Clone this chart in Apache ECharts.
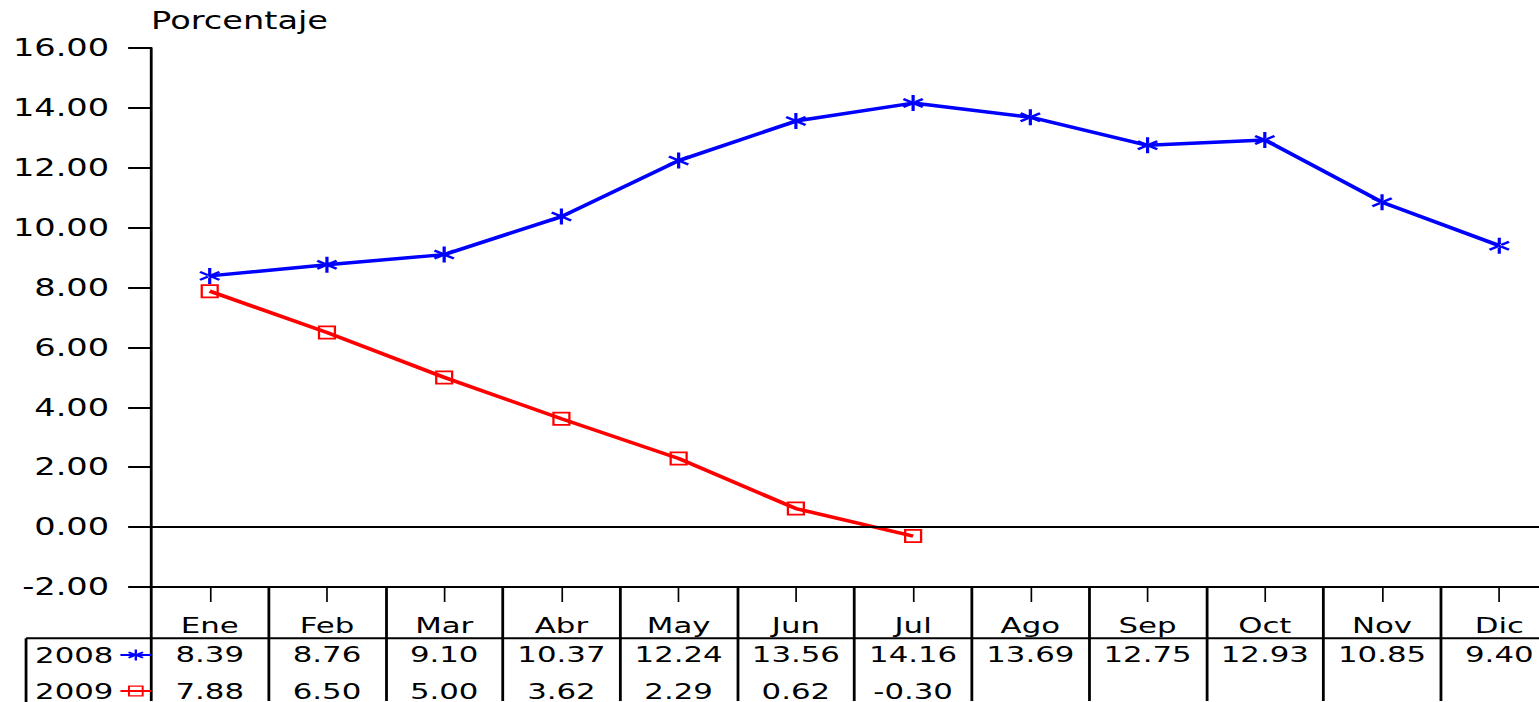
<!DOCTYPE html>
<html>
<head>
<meta charset="utf-8">
<script src="https://cdn.jsdelivr.net/npm/echarts@6/dist/echarts.min.js"></script>
<style>
  html, body { margin: 0; padding: 0; background: #fff; overflow: hidden; }
  #wrap { width: 1539px; height: 702px; overflow: hidden; }
  /* the chart is laid out narrower and widened horizontally; the last column runs past the right edge */
  #chart { width: 1120px; height: 702px; transform: scaleX(1.40036); transform-origin: 0 0; }
</style>
</head>
<body>
<div id="wrap"><div id="chart"></div></div>
<script>
// Monthly percentages
const months = ['Ene', 'Feb', 'Mar', 'Abr', 'May', 'Jun', 'Jul', 'Ago', 'Sep', 'Oct', 'Nov', 'Dic'];
const values2008 = [8.39, 8.76, 9.10, 10.37, 12.24, 13.56, 14.16, 13.69, 12.75, 12.93, 10.85, 9.40];
const values2009 = [7.88, 6.50, 5.00, 3.62, 2.29, 0.62, -0.30];
const seriesNames = ['2008', '2009'];
const yMin = -2, yMax = 16, yStep = 2;
const yTitle = 'Porcentaje';

const FONT = 'DejaVu Sans';
const BLUE = '#0000ff';
const RED = '#ff0000';

// six-armed asterisk marker
const STAR = 'path://M-1,-7 L1,-7 L1,7 L-1,7 Z ' +
  'M6.56,2.63 L5.56,4.37 L-6.56,-2.63 L-5.56,-4.37 Z ' +
  'M-6.56,2.63 L-5.56,4.37 L6.56,-2.63 L5.56,-4.37 Z';
// hollow square marker (the line stays visible inside)
const SQUARE = 'path://M0,0 H20 V20 H0 Z M2.5,2.5 V17.5 H17.5 V2.5 Z';

const fmt = v => (v === undefined || v === null) ? '' : v.toFixed(2);

const chart = echarts.init(document.getElementById('chart'), null, { renderer: 'svg' });

const option = {
  animation: false,
  backgroundColor: '#fff',
  textStyle: { fontFamily: FONT, color: '#000' },
  grid: { left: 107.9, top: 48, width: 1004.6, height: 540, containLabel: false },
  legend: {
    data: seriesNames,
    orient: 'vertical',
    left: 25,
    top: 644,
    padding: 0,
    align: 'right',
    itemWidth: 22,
    itemHeight: 14,
    itemGap: 14,
    selectedMode: false,
    textStyle: { fontFamily: FONT, fontSize: 22, color: '#000' }
  },
  xAxis: [
    {
      type: 'category',
      data: months,
      position: 'bottom',
      boundaryGap: true,
      axisLine: { onZero: false, lineStyle: { color: '#000', width: 2 } },
      axisTick: { show: true, alignWithLabel: false, interval: 0, length: 114, lineStyle: { color: '#000', width: 2 } },
      splitLine: { show: false },
      axisLabel: {
        interval: 0,
        margin: 23,
        color: '#000',
        fontFamily: FONT,
        formatter: (value, idx) =>
          '{m|' + value + '}\n{a|' + fmt(values2008[idx]) + '}\n{b|' + fmt(values2009[idx]) + '}',
        rich: {
          m: { fontFamily: FONT, fontSize: 22, lineHeight: 30, color: '#000' },
          a: { fontFamily: FONT, fontSize: 22, lineHeight: 29, color: '#000' },
          b: { fontFamily: FONT, fontSize: 22, lineHeight: 44, color: '#000' }
        }
      }
    },
    {
      type: 'category',
      data: months,
      position: 'bottom',
      boundaryGap: true,
      axisLine: { show: false, onZero: false },
      axisTick: { show: true, alignWithLabel: true, interval: 0, length: 15, lineStyle: { color: '#000', width: 1.2 } },
      axisLabel: { show: false },
      splitLine: { show: false }
    }
  ],
  yAxis: {
    type: 'value',
    min: yMin,
    max: yMax,
    interval: yStep,
    name: yTitle,
    nameLocation: 'end',
    nameGap: 15,
    nameTextStyle: { fontFamily: FONT, fontSize: 24, color: '#000', align: 'left' },
    axisLine: { show: true, onZero: false, lineStyle: { color: '#000', width: 2 } },
    axisTick: { show: true, length: 16.4, lineStyle: { color: '#000', width: 2 } },
    splitLine: { show: false },
    axisLabel: {
      margin: 30,
      color: '#000',
      fontFamily: FONT,
      fontSize: 24,
      formatter: v => v.toFixed(2)
    }
  },
  graphic: [
    // data-table frame: rule under the month row and left edge of the row headers
    { type: 'line', shape: { x1: 18.6, y1: 638.3, x2: 1120, y2: 638.3 }, style: { stroke: '#000', lineWidth: 2 }, z: 10 },
    { type: 'line', shape: { x1: 18.6, y1: 638.3, x2: 18.6, y2: 702 }, style: { stroke: '#000', lineWidth: 2 }, z: 10 }
  ],
  series: [
    {
      name: seriesNames[0],
      type: 'line',
      data: values2008,
      symbol: STAR,
      symbolSize: [15, 16],
      showAllSymbol: true,
      lineStyle: { color: BLUE, width: 3.5 },
      itemStyle: { color: BLUE },
      z: 3,
      markLine: {
        silent: true,
        symbol: ['none', 'none'],
        label: { show: false },
        lineStyle: { color: '#000', width: 2, type: 'solid' },
        emphasis: { disabled: true },
        data: [{ yAxis: 0 }]
      }
    },
    {
      name: seriesNames[1],
      type: 'line',
      data: values2009,
      symbol: SQUARE,
      symbolSize: [13, 14],
      showAllSymbol: true,
      lineStyle: { color: RED, width: 3.5 },
      itemStyle: { color: RED },
      z: 4
    }
  ]
};

chart.setOption(option);
</script>
</body>
</html>
